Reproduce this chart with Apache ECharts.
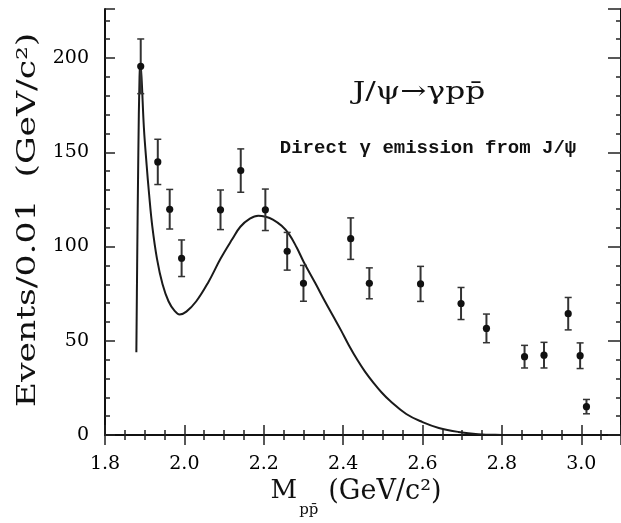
<!DOCTYPE html>
<html><head><meta charset="utf-8">
<script src="https://cdn.jsdelivr.net/npm/echarts@6/dist/echarts.min.js"></script>
<style>html,body{margin:0;padding:0;background:#fff}#c{width:621px;height:523px}</style>
</head><body><div id="c"></div>
<script>
// measured data points (M_ppbar in GeV/c^2, events per 0.01 GeV/c^2, error)
const massX  = [1.890, 1.933, 1.963, 1.993, 2.091, 2.142, 2.204, 2.259, 2.300, 2.419, 2.466, 2.595, 2.697, 2.761, 2.857, 2.906, 2.967, 2.997, 3.013];
const events = [195.6, 144.9, 119.8, 93.8, 119.5, 140.3, 119.5, 97.5, 80.5, 104.2, 80.5, 80.2, 69.8, 56.6, 41.6, 42.4, 64.4, 42.1, 15.1];
const errors = [14.5, 12.0, 10.5, 9.7, 10.5, 11.5, 11.0, 10.0, 9.5, 11.0, 8.2, 9.3, 8.5, 7.6, 6.0, 6.8, 8.6, 6.8, 3.8];

// direct gamma emission curve
const curveX = [1.879, 1.881, 1.884, 1.887, 1.889, 1.892, 1.898, 1.905, 1.911, 1.919, 1.931, 1.945, 1.960, 1.975, 1.988, 2.005, 2.030, 2.060, 2.091, 2.120, 2.141, 2.165, 2.186, 2.205, 2.223, 2.245, 2.264, 2.283, 2.301, 2.330, 2.354, 2.375, 2.395, 2.415, 2.436, 2.455, 2.477, 2.497, 2.518, 2.559, 2.600, 2.641, 2.690, 2.740, 2.800, 2.850];
const curveY = [44, 90, 150, 190, 197, 190, 163, 143, 128, 111, 93.5, 80, 71, 66, 64, 65.5, 71, 81, 93.5, 103.7, 110.5, 114.8, 116.4, 115.8, 114.3, 111, 106.5, 99.5, 91.7, 80.5, 71, 63, 55.4, 47.4, 39.8, 33.7, 27.6, 22.6, 18.2, 11.2, 6.9, 3.8, 1.7, 0.5, 0.1, 0];

const xTickLabels = ['1.8', '2.0', '2.2', '2.4', '2.6', '2.8', '3.0'];
const yTickLabels = ['0', '50', '100', '150', '200'];

const chart = echarts.init(document.getElementById('c'), null, {renderer: 'canvas'});
const serif = 'DejaVu Serif';
const tickStyle = {color: '#222', width: 1.5};
const axisLine = {show: true, lineStyle: {color: '#111', width: 2}};

const xBase = {
  type: 'value', min: 1.8, max: 3.1, interval: 0.2,
  axisLine: axisLine,
  axisTick: {show: true, inside: true, length: 10, lineStyle: tickStyle},
  minorTick: {show: true, splitNumber: 4, length: 5, lineStyle: tickStyle},
  splitLine: {show: false}
};
const yBase = {
  type: 'value', min: 0, max: 226, interval: 50,
  axisLine: axisLine,
  axisTick: {show: true, inside: true, length: 10, lineStyle: tickStyle},
  minorTick: {show: true, splitNumber: 5, length: 5, lineStyle: tickStyle},
  splitLine: {show: false}
};

const option = {
  animation: false,
  backgroundColor: '#fff',
  grid: {left: 105, top: 9, bottom: 80, right: -12},
  xAxis: [
    Object.assign({}, xBase, {
      position: 'bottom',
      axisLabel: {
        show: true, margin: 19, showMaxLabel: false,
        fontFamily: serif, fontSize: 19, color: '#000',
        formatter: function (v) {
          const s = v.toFixed(1);
          return xTickLabels.indexOf(s) >= 0 ? s : '';
        }
      },
      name: '{m|M}{s|pp̄}   {u|(GeV/c²)}',
      nameLocation: 'middle', nameGap: 17,
      nameTextStyle: {
        padding: [0, 14, 0, 0],
        rich: {
          m: {fontFamily: serif, fontSize: 26, color: '#111'},
          s: {fontFamily: serif, fontSize: 15, color: '#111', padding: [38, 0, 0, 2]},
          u: {fontFamily: serif, fontSize: 27, color: '#111'}
        }
      }
    }),
    Object.assign({}, xBase, {position: 'top', axisLabel: {show: false}})
  ],
  yAxis: [
    Object.assign({}, yBase, {
      position: 'left',
      axisLabel: {
        show: true, margin: 16, showMaxLabel: false,
        fontFamily: serif, fontSize: 19, color: '#000',
        formatter: function (v) {
          const s = String(v);
          return yTickLabels.indexOf(s) >= 0 ? s : '';
        }
      }
    }),
    Object.assign({}, yBase, {position: 'right', axisLabel: {show: false}, axisTick: {show: true, inside: true, length: 13, lineStyle: tickStyle}})
  ],
  graphic: [
    {type: 'text', x: 28, y: 220, rotation: Math.PI / 2, scaleX: 1.33, scaleY: 1,
     style: {text: 'Events/0.01  (GeV/c²)', font: '26px "DejaVu Serif"', fill: '#111', textAlign: 'center', textVerticalAlign: 'middle'}},
    {type: 'text', x: 419, y: 92, scaleX: 1.25,
     style: {text: 'J/ψ→γpp̄', font: '25px "DejaVu Serif"', fill: '#111', textAlign: 'center', textVerticalAlign: 'middle'}},
    {type: 'text', x: 428, y: 148,
     style: {text: 'Direct γ emission from J/ψ', font: 'bold 19px "Liberation Mono"', fill: '#111', textAlign: 'center', textVerticalAlign: 'middle'}}
  ],
  series: [
    {
      type: 'line', xAxisIndex: 0, yAxisIndex: 0,
      data: curveX.map(function (x, i) { return [x, curveY[i]]; }),
      showSymbol: false, symbol: 'none',
      smooth: 0.4,
      lineStyle: {color: '#1a1a1a', width: 2},
      z: 2
    },
    {
      type: 'custom', xAxisIndex: 0, yAxisIndex: 0,
      data: massX.map(function (x, i) { return [x, events[i], events[i] - errors[i], events[i] + errors[i]]; }),
      encode: {x: 0, y: 1},
      renderItem: function (params, api) {
        const x = api.value(0);
        const p = api.coord([x, api.value(1)]);
        const lo = api.coord([x, api.value(2)]);
        const hi = api.coord([x, api.value(3)]);
        const cap = 3.5;
        const st = {stroke: '#333', lineWidth: 2};
        return {
          type: 'group', children: [
            {type: 'line', shape: {x1: lo[0], y1: lo[1], x2: hi[0], y2: hi[1]}, style: st},
            {type: 'line', shape: {x1: lo[0] - cap, y1: lo[1], x2: lo[0] + cap, y2: lo[1]}, style: {stroke: '#333', lineWidth: 1.5}},
            {type: 'line', shape: {x1: hi[0] - cap, y1: hi[1], x2: hi[0] + cap, y2: hi[1]}, style: {stroke: '#333', lineWidth: 1.5}},
            {type: 'circle', shape: {cx: p[0], cy: p[1], r: 3.6}, style: {fill: '#111'}}
          ]
        };
      },
      z: 3
    }
  ]
};
chart.setOption(option);
</script>
</body></html>
